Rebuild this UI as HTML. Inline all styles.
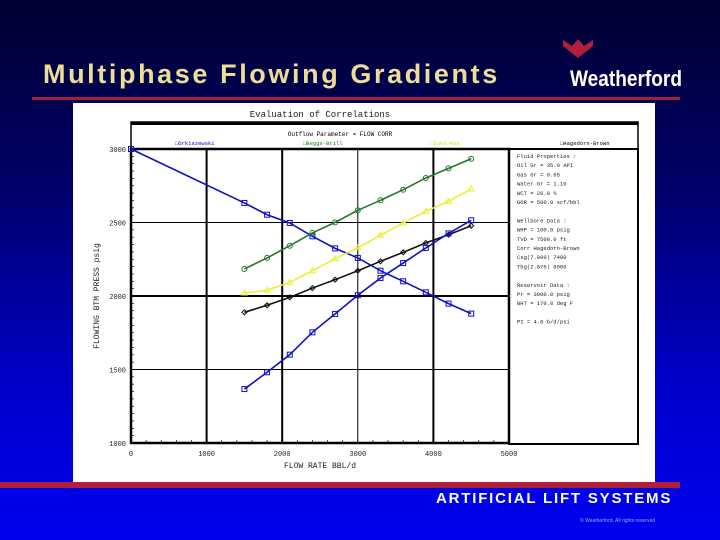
<!DOCTYPE html>
<html><head><meta charset="utf-8"><style>
body{margin:0;width:720px;height:540px;overflow:hidden;background:linear-gradient(#000030 0%,#00006a 35%,#0000c8 70%,#0000f0 100%);font-family:"Liberation Sans",sans-serif;position:relative}
.t{position:absolute}
</style></head><body>
<div class="t" style="left:43px;top:59px;font-size:27px;font-weight:bold;color:#eedd99;letter-spacing:2.6px">Multiphase Flowing Gradients</div>
<svg class="t" style="left:560px;top:36px" width="130" height="60">
<path d="M3,4 L12,10 L18,3 L24,10 L33,4 L33,10 L18,22 L3,10Z" fill="#b0203a"/>
<text x="10" y="50" font-size="22" font-weight="bold" fill="#fff" font-family="Liberation Sans" textLength="112" lengthAdjust="spacingAndGlyphs">Weatherford</text>
</svg>
<div class="t" style="left:32px;top:97px;width:648px;height:3px;background:#a02040"></div>
<div class="t" style="left:0;top:482px;width:680px;height:6px;background:#b0203a"></div>
<div class="t" style="left:436px;top:490px;font-size:15px;font-weight:bold;color:#fff;letter-spacing:1.8px">ARTIFICIAL LIFT SYSTEMS</div>
<div class="t" style="left:580px;top:518px;font-size:5px;color:#99aaff">© Weatherford. All rights reserved</div>
<svg class="t" id="chart" style="left:0;top:0" width="720" height="540"></svg>
<script>
const xs=[1500,1800,2100,2400,2700,3000,3300,3600,3900,4200,4500];
const blueDown=[2633,2553,2497,2406,2324,2259,2172,2100,2025,1948,1880];
const blueDownStart=3000;
const green=[2184,2259,2342,2429,2501,2583,2651,2723,2803,2868,2934];
const yellow=[2020,2039,2093,2172,2254,2327,2413,2497,2576,2644,2728];
const black=[1889,1937,1991,2054,2111,2172,2236,2297,2361,2417,2478];
const blueUp=[1367,1481,1601,1753,1878,2005,2122,2224,2327,2426,2515];
const xTicks=[0,1000,2000,3000,4000,5000];
const yTicks=[1000,1500,2000,2500,3000];
const legendLabels=["Orkiszewski","Beggs-Brill","Duns-Ros","Hagedorn-Brown"];
const panelLines=["Fluid Properties :","Oil Gr =   35.0 API","Gas Gr =    0.65","Water Gr =   1.10","WCT =    20.0 %","GOR =  500.0 scf/bbl","","Wellbore Data :","WHP =  100.0 psig","TVD = 7500.0 ft","Corr Hagedorn-Brown","Csg(7.000) 7400","Tbg(2.875) 8000","","Reservoir Data :","Pr = 3000.0 psig","BHT =  170.0 deg F","","PI =     4.0 b/d/psi"];
const S=document.getElementById('chart');const NS='http://www.w3.org/2000/svg';
function el(t,a,p){const e=document.createElementNS(NS,t);for(const k in a)e.setAttribute(k,a[k]);(p||S).appendChild(e);return e;}
const X0=131,X1=509,Y0=443,Y1=149;
const xs_=v=>X0+(v-0)/5000*(X1-X0);
const ys_=v=>Y0-(v-1000)/2000*(Y0-Y1);
let r=el('rect',{x:73,y:103,width:582,height:379,fill:'#fff'});

let t=el('text',{x:320,y:117,'font-size':9,'font-family':'Liberation Mono',fill:'#222','text-anchor':'middle'});t.textContent='Evaluation of Correlations';

el('rect',{x:131,y:122,width:507,height:27,fill:'none',stroke:'#000','stroke-width':1.5});
el('rect',{x:131,y:122,width:507,height:3,fill:'#000'});
t=el('text',{x:340,y:136,'font-size':6,'font-family':'Liberation Mono','text-anchor':'middle'});t.textContent='Outflow Parameter = FLOW CORR';

const lcol=['#0000cc','#1a7a1a','#dddd00','#000'];const lx=[175,303,430,560];
legendLabels.forEach((l,i)=>{
 let g=el('text',{x:lx[i],y:145,'font-size':5.5,'font-family':'Liberation Mono',fill:lcol[i]});g.textContent='\u25A1'+l;
 
});
el('rect',{x:X0,y:Y1,width:X1-X0,height:Y0-Y1,fill:'none',stroke:'#000','stroke-width':2.5});
el('rect',{x:X1,y:Y1,width:129,height:Y0-Y1+1,fill:'none',stroke:'#000','stroke-width':2});
xTicks.slice(1,5).forEach(v=>{let l=el('line',{x1:xs_(v),x2:xs_(v),y1:Y1,y2:Y0,stroke:'#000','stroke-width':v==3000?1:2});});
yTicks.slice(1,4).forEach(v=>{let l=el('line',{x1:X0,x2:X1,y1:ys_(v),y2:ys_(v),stroke:'#000','stroke-width':v==2000?2:1});});
for(let v=0;v<=5000;v+=200)el('line',{x1:xs_(v),x2:xs_(v),y1:Y0,y2:Y0-3,stroke:'#000','stroke-width':0.7});
for(let v=1000;v<=3000;v+=50)el('line',{x1:X0,x2:X0+3,y1:ys_(v),y2:ys_(v),stroke:'#000','stroke-width':0.7});
xTicks.forEach(v=>{let e=el('text',{x:xs_(v),y:456,'font-size':7,'font-family':'Liberation Mono','text-anchor':'middle',fill:'#222'});e.textContent=v;});
yTicks.forEach(v=>{let e=el('text',{x:126,y:ys_(v)+3,'font-size':7,'font-family':'Liberation Mono','text-anchor':'end',fill:'#222'});e.textContent=v;});
t=el('text',{x:320,y:468,'font-size':8,'font-family':'Liberation Mono','text-anchor':'middle',fill:'#222'});t.textContent='FLOW RATE BBL/d';
t=el('text',{x:0,y:0,'font-size':8,'font-family':'Liberation Mono','text-anchor':'middle',fill:'#222',transform:'translate(99,296) rotate(-90)'});t.textContent='FLOWING BTM PRESS  psig';
panelLines.forEach((s,i)=>{let e=el('text',{x:517,y:158+i*9.2,'font-size':5.5,'font-family':'Liberation Mono',fill:'#222'});e.textContent=s;});
function series(name,xv,yv,c,mk){
 const pts=xv.map((x,i)=>xs_(x)+','+ys_(yv[i])).join(' ');
 let p=el('polyline',{points:pts,fill:'none',stroke:c,'stroke-width':1.6});
 
 xv.forEach((x,i)=>{const cx=xs_(x),cy=ys_(yv[i]);let m;
  if(mk=='sq')m=el('rect',{x:cx-2.5,y:cy-2.5,width:5,height:5,fill:'none',stroke:c});
  else if(mk=='ci')m=el('circle',{cx:cx,cy:cy,r:2.5,fill:'none',stroke:c});
  else if(mk=='tr')m=el('path',{d:`M${cx-3},${cy+2}L${cx},${cy-3}L${cx+3},${cy+2}Z`,fill:'none',stroke:c});
  else m=el('path',{d:`M${cx-2.5},${cy}L${cx},${cy-2.5}L${cx+2.5},${cy}L${cx},${cy+2.5}Z`,fill:'none',stroke:c});
  });
}
series('ipr-curve',[0].concat(xs),[blueDownStart].concat(blueDown),'#1010c0','sq');
series('beggs-brill-line',xs,green,'#1f7a2a','ci');
series('duns-ros-line',xs,yellow,'#eeee30','tr');
series('hagedorn-brown-line',xs,black,'#111','di');
series('orkiszewski-line',xs,blueUp,'#1010c0','sq');
</script>
</body></html>
